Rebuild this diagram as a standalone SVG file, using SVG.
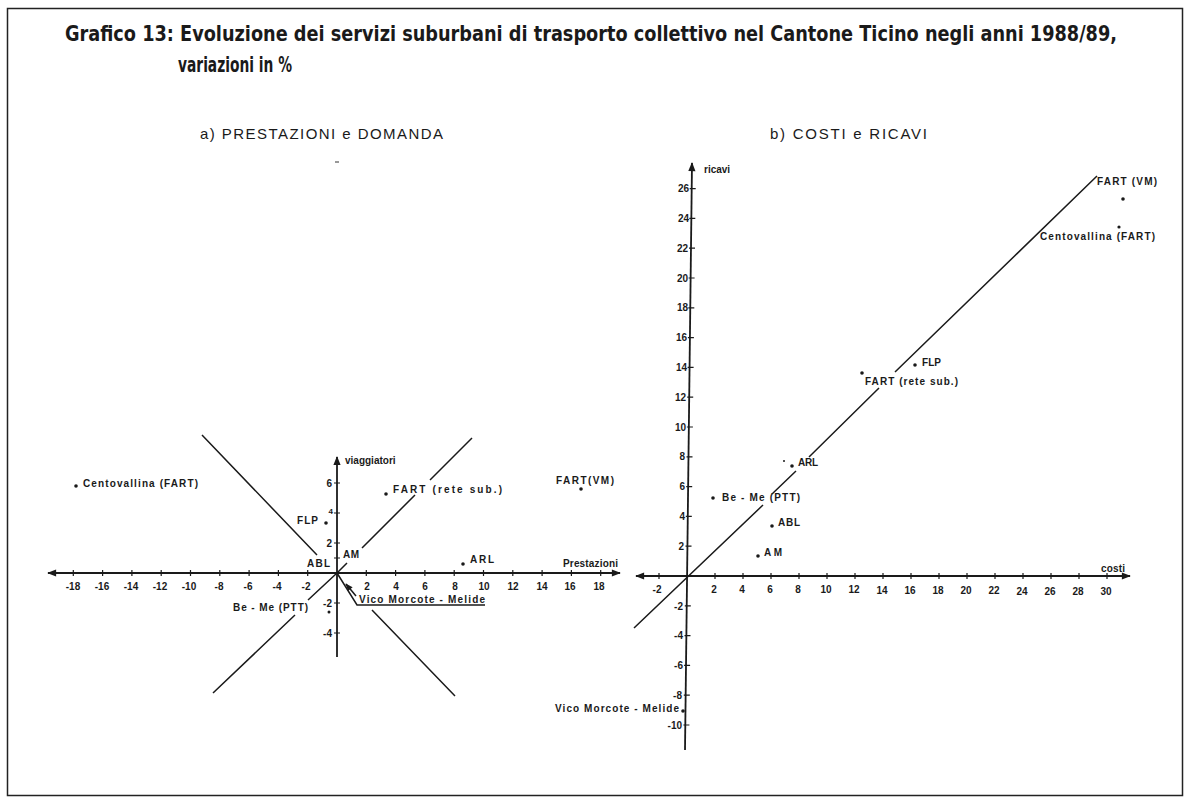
<svg xmlns="http://www.w3.org/2000/svg" width="1189" height="804" viewBox="0 0 1189 804">
<defs>
<style>
.title{font-family:"Liberation Sans Narrow","DejaVu Sans Condensed","Liberation Sans",sans-serif;font-weight:bold;font-size:21px;fill:#1a1a1a}
.sub{font-family:"Liberation Sans",Arial,sans-serif;font-size:15px;fill:#1a1a1a}
.lbl{font-family:"Liberation Sans",Arial,sans-serif;font-weight:bold;font-size:10px;fill:#1a1a1a}
.tk{font-family:"Liberation Sans",Arial,sans-serif;font-weight:bold;font-size:10px;fill:#1a1a1a}
.ax{stroke:#1a1a1a;stroke-width:1.8;fill:none}
.tick{stroke:#1a1a1a;stroke-width:1.2;fill:none}
.ln{stroke:#1a1a1a;stroke-width:1.5;fill:none}
.dot{fill:#1a1a1a}
</style>
<marker id="arr" viewBox="0 0 10 10" refX="9" refY="5" markerWidth="6" markerHeight="5" orient="auto-start-reverse">
<path d="M0 1 L10 5 L0 9 z" fill="#1a1a1a"/>
</marker>
</defs>
<rect x="0" y="0" width="1189" height="804" fill="#fff"/>
<rect x="7.5" y="8.5" width="1175" height="787" fill="none" stroke="#222" stroke-width="1.5"/>

<g id="title">
<text class="title" x="65" y="41" textLength="1052" lengthAdjust="spacingAndGlyphs">Grafico 13: Evoluzione dei servizi suburbani di trasporto collettivo nel Cantone Ticino negli anni 1988/89,</text>
<text class="title" x="178" y="72" textLength="114" lengthAdjust="spacingAndGlyphs">variazioni in %</text>
</g>

<g id="subtitle-a"><text class="sub" x="200" y="139" textLength="243">a)  PRESTAZIONI   e   DOMANDA</text>
<line x1="335" y1="162" x2="339" y2="162" stroke="#333" stroke-width="1"/></g>
<g id="subtitle-b"><text class="sub" x="770" y="139" textLength="157">b)  COSTI   e   RICAVI</text></g>

<!-- Left chart -->
<g id="chart-a-axes">
<line class="ax" x1="48" y1="573" x2="620" y2="573" marker-start="url(#arr)" marker-end="url(#arr)"/>
<line class="ax" x1="337" y1="657" x2="337" y2="457" marker-end="url(#arr)"/>
<path class="tick" d="M73.3 570v6M102.6 570v6M131.9 570v6M161.2 570v6M190.5 570v6M219.8 570v6M249.1 570v6M278.4 570v6M307.7 570v6M366.3 570v6M395.6 570v6M424.9 570v6M454.2 570v6M483.5 570v6M512.8 570v6M542.1 570v6M571.4 570v6M600.7 570v6M334 483h6M334 513h6M334 543h6M334 558h6M334 603h6M334 633h6"/>
<g class="tk" text-anchor="middle">
<text x="73" y="590">-18</text><text x="102" y="590">-16</text><text x="131" y="590">-14</text><text x="160" y="590">-12</text><text x="189" y="590">-10</text><text x="219" y="590">-8</text><text x="248" y="590">-6</text><text x="277" y="590">-4</text><text x="306" y="590">-2</text>
<text x="367" y="590">2</text><text x="396" y="590">4</text><text x="425" y="590">6</text><text x="455" y="590">8</text><text x="484" y="590">10</text><text x="513" y="590">12</text><text x="542" y="590">14</text><text x="570" y="590">16</text><text x="599" y="590">18</text>
</g>
<g class="tk" text-anchor="end">
<text x="332" y="487">6</text><text x="333" y="514" font-size="8">4</text><text x="332" y="547">2</text><text x="332" y="607">-2</text><text x="332" y="637">-4</text>
</g>
<text class="lbl" x="345" y="464" font-size="8.5">viaggiatori</text>
<text class="lbl" x="563" y="567" font-size="9.5" textLength="55">Prestazioni</text>
</g>

<g id="chart-a-lines">
<path class="ln" d="M202 435L317 555M372 610L455 696"/>
<path class="ln" d="M213 693L295 615M308 600L337 573L347 563M362 548L415 495M430 480L472 438"/>
<path class="ln" d="M337 573L357 605L485 605"/>
<line class="ln" x1="356" y1="596" x2="346" y2="584" stroke-width="1.1" marker-end="url(#arr)"/>
</g>

<g id="a-centovallina"><circle class="dot" cx="76" cy="486" r="1.8"/><text class="lbl" x="83" y="487" textLength="115">Centovallina (FART)</text></g>
<g id="a-flp"><circle class="dot" cx="326" cy="523" r="1.8"/><text class="lbl" x="297" y="524" textLength="21">FLP</text></g>
<g id="a-abl"><text class="lbl" x="307" y="567" textLength="23">ABL</text></g>
<g id="a-am"><text class="lbl" x="343" y="558" textLength="16">AM</text></g>
<g id="a-fart-rete"><circle class="dot" cx="386" cy="494" r="1.8"/><text class="lbl" x="393" y="493" textLength="109">FART (rete sub.)</text></g>
<g id="a-fart-vm"><circle class="dot" cx="581" cy="489" r="1.8"/><text class="lbl" x="556" y="484" textLength="58">FART(VM)</text></g>
<g id="a-arl"><circle class="dot" cx="463" cy="564" r="1.8"/><text class="lbl" x="470" y="563" textLength="24">ARL</text></g>
<g id="a-beme"><text class="lbl" x="233" y="611" textLength="75">Be - Me (PTT)</text><circle class="dot" cx="329" cy="612" r="1.5"/></g>
<g id="a-vico"><text class="lbl" x="359" y="603" textLength="126">Vico Morcote - Melide</text></g>

<!-- Right chart -->
<g id="chart-b-axes">
<line class="ax" x1="636" y1="576" x2="1130" y2="576" marker-start="url(#arr)" marker-end="url(#arr)"/>
<line class="ax" x1="685" y1="750" x2="692" y2="163" marker-end="url(#arr)"/>
<path class="tick" d="M659 573v6M715 573v6M743 573v6M771 573v6M799 573v6M827 573v6M855 573v6M883 573v6M911 573v6M939 573v6M967 573v6M995 573v6M1023 573v6M1051 573v6M1079 573v6M1107 573v6M689.7 188.6h6M689.3 218.4h6M689 248.2h6M688.6 278h6M688.3 307.8h6M687.9 337.6h6M687.6 367.4h6M687.2 397.2h6M686.9 427h6M686.5 456.8h6M686.2 486.6h6M685.8 516.4h6M685.5 546.2h6M684.8 605.8h6M684.5 635.6h6M684.1 665.4h6M683.8 695.2h6M683.4 725h6"/>
<g class="tk" text-anchor="middle">
<text x="657" y="593">-2</text><text x="714" y="593">2</text><text x="742" y="593">4</text><text x="770" y="593">6</text><text x="798" y="593">8</text><text x="826" y="593">10</text><text x="854" y="593">12</text><text x="882" y="594">14</text><text x="910" y="594">16</text><text x="938" y="594">18</text><text x="966" y="594">20</text><text x="994" y="594">22</text><text x="1022" y="595">24</text><text x="1050" y="595">26</text><text x="1078" y="595">28</text><text x="1106" y="595">30</text>
</g>
<g class="tk" text-anchor="end">
<text x="689" y="192">26</text><text x="689" y="222">24</text><text x="688" y="252">22</text><text x="688" y="282">20</text><text x="688" y="311">18</text><text x="687" y="341">16</text><text x="687" y="371">14</text><text x="686" y="401">12</text><text x="686" y="431">10</text><text x="685" y="460">8</text><text x="685" y="490">6</text><text x="685" y="520">4</text><text x="684" y="550">2</text><text x="683" y="610">-2</text><text x="683" y="639">-4</text><text x="683" y="669">-6</text><text x="682" y="699">-8</text><text x="682" y="729">-10</text>
</g>
<text class="lbl" x="704" y="173" font-size="8.5" textLength="26">ricavi</text>
<text class="lbl" x="1101" y="572" font-size="9" textLength="24">costi</text>
</g>

<g id="chart-b-lines">
<path class="ln" d="M634 628L763 505M772 494L796 471M809 457L879 388M895 372L1097 176"/>
</g>

<g id="b-fart-vm"><circle class="dot" cx="1123" cy="199" r="1.8"/><text class="lbl" x="1097" y="185" textLength="60">FART  (VM)</text></g>
<g id="b-centovallina"><circle class="dot" cx="1119" cy="227" r="1.6"/><text class="lbl" x="1040" y="240" textLength="115">Centovallina  (FART)</text></g>
<g id="b-flp"><circle class="dot" cx="915" cy="365" r="1.8"/><text class="lbl" x="922" y="366" textLength="19">FLP</text></g>
<g id="b-fart-rete"><circle class="dot" cx="862" cy="373" r="1.8"/><text class="lbl" x="865" y="385" textLength="93">FART (rete sub.)</text></g>
<g id="b-arl"><circle class="dot" cx="792" cy="466" r="1.8"/><circle class="dot" cx="784" cy="461" r="1"/><text class="lbl" x="798" y="466" textLength="20">ARL</text></g>
<g id="b-beme"><circle class="dot" cx="713" cy="498" r="1.8"/><text class="lbl" x="722" y="501" textLength="78">Be - Me (PTT)</text></g>
<g id="b-abl"><circle class="dot" cx="772" cy="526" r="1.8"/><text class="lbl" x="778" y="526" textLength="22">ABL</text></g>
<g id="b-am"><circle class="dot" cx="758" cy="556" r="1.8"/><text class="lbl" x="764" y="556" textLength="18">AM</text></g>
<g id="b-vico"><circle class="dot" cx="683" cy="711" r="1.8"/><text class="lbl" x="555" y="712" textLength="124">Vico Morcote - Melide</text></g>
</svg>
